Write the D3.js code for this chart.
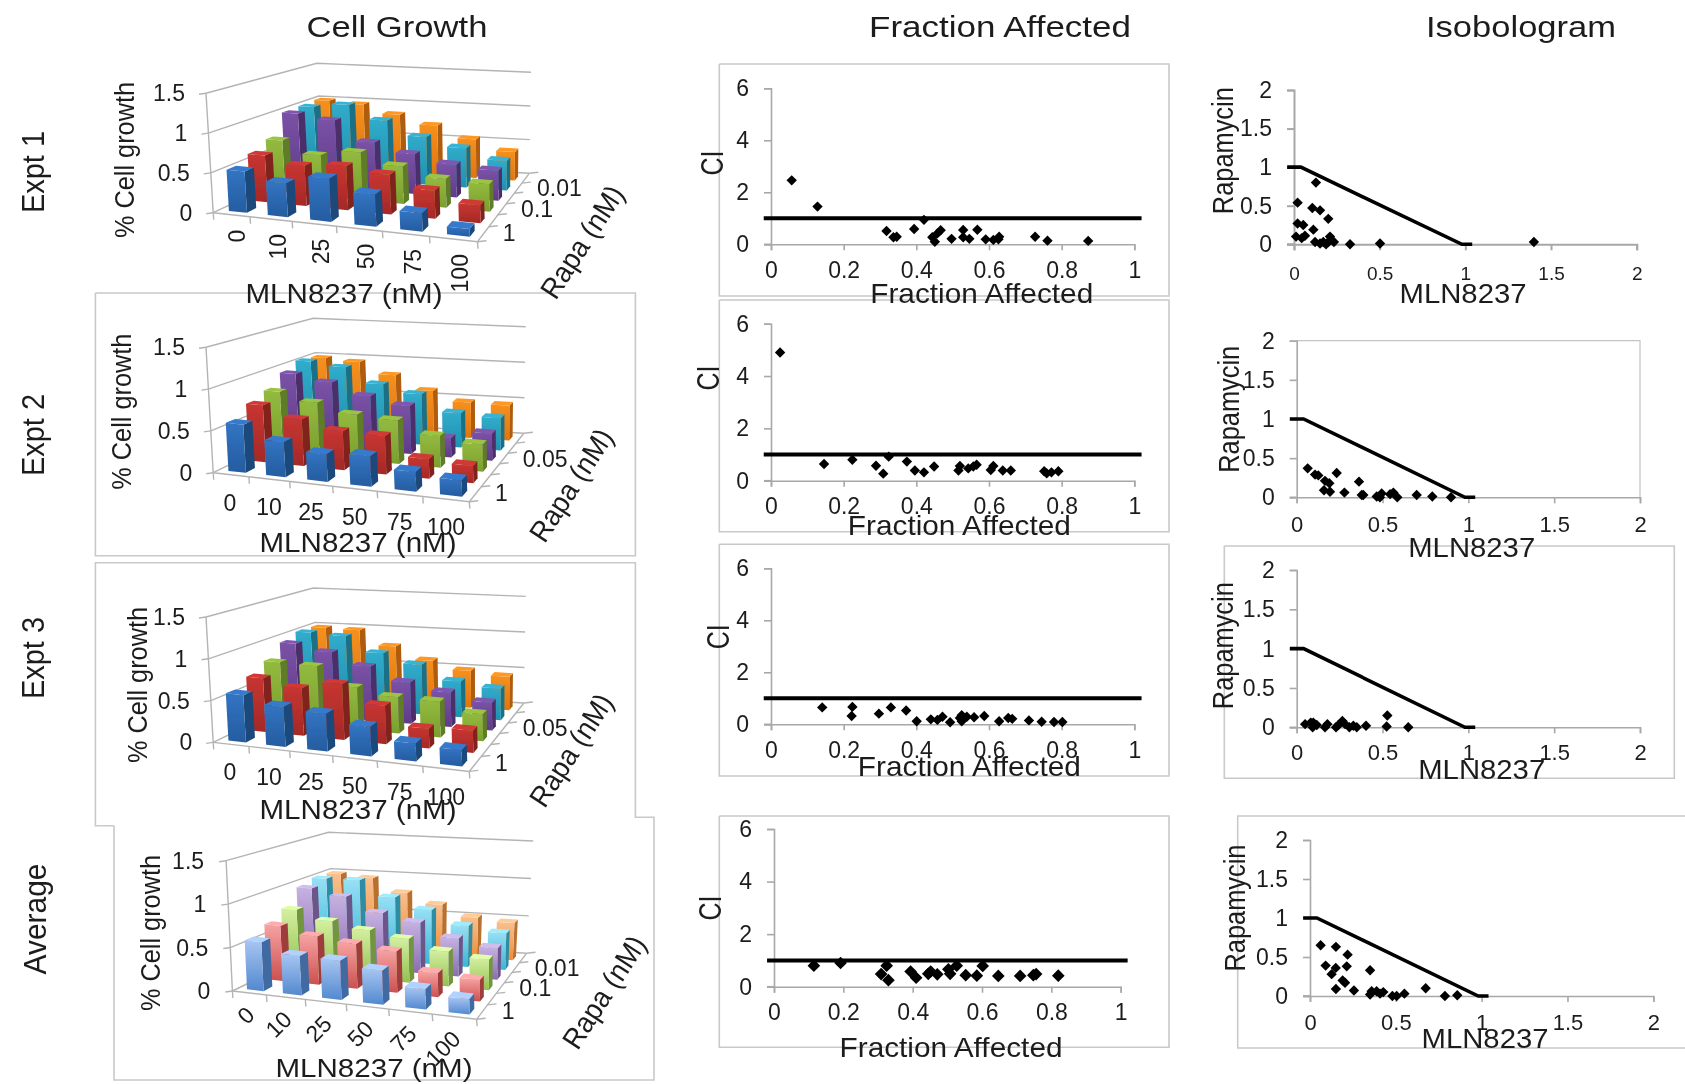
<!DOCTYPE html>
<html>
<head>
<meta charset="utf-8">
<title>Cell growth, fraction affected, isobologram</title>
<script src="https://cdn.jsdelivr.net/npm/d3@7"></script>
<style>
  body { margin: 0; background: #fff; }
  svg { display: block; font-family: "Liberation Sans", Arial, sans-serif; }
  text { fill: #1c1c1c; }
</style>
</head>
<body>
<svg width="1685" height="1084"></svg>
<script>
/* global d3 */
var mlnDoses = ["0", "10", "25", "50", "75", "100"];
var rapaLabelsA = ["1", "", "0.1", "", "0.01", ""];
var rapaLabelsB = ["1", "", "", "0.05", "", ""];
var growthTicks = [0, 0.5, 1, 1.5];

// rows go front to back (blue, red, green, purple, cyan, orange), columns follow mlnDoses
var growth1 = [
  [0.52, 0.42, 0.53, 0.39, 0.22, 0.09],
  [0.61, 0.52, 0.56, 0.50, 0.35, 0.22],
  [0.71, 0.55, 0.63, 0.49, 0.37, 0.35],
  [0.99, 0.93, 0.66, 0.54, 0.44, 0.40],
  [1.00, 1.06, 0.87, 0.67, 0.55, 0.41],
  [1.01, 0.98, 0.86, 0.73, 0.56, 0.41]
];
var growth2 = [
  [0.58, 0.42, 0.33, 0.36, 0.23, 0.19],
  [0.71, 0.58, 0.48, 0.47, 0.24, 0.21],
  [0.79, 0.69, 0.58, 0.55, 0.40, 0.34],
  [0.94, 0.86, 0.72, 0.63, 0.25, 0.35],
  [1.03, 0.98, 0.78, 0.68, 0.46, 0.43],
  [1.00, 0.97, 0.81, 0.62, 0.49, 0.48]
];
var growth3 = [
  [0.57, 0.48, 0.45, 0.35, 0.21, 0.19],
  [0.67, 0.59, 0.69, 0.47, 0.24, 0.27],
  [0.78, 0.77, 0.54, 0.46, 0.45, 0.34],
  [0.94, 0.86, 0.71, 0.54, 0.45, 0.36],
  [1.01, 0.99, 0.79, 0.67, 0.48, 0.42],
  [1.00, 0.99, 0.79, 0.62, 0.51, 0.46]
];
var growthAvg = [
  [0.57, 0.46, 0.46, 0.40, 0.24, 0.18],
  [0.66, 0.58, 0.54, 0.50, 0.29, 0.26],
  [0.77, 0.67, 0.60, 0.54, 0.43, 0.38],
  [0.96, 0.89, 0.72, 0.64, 0.48, 0.40],
  [1.01, 1.02, 0.83, 0.70, 0.53, 0.47],
  [1.00, 0.97, 0.80, 0.67, 0.53, 0.49]
];

var faTicksX = [0, 0.2, 0.4, 0.6, 0.8, 1];
var faTicksY = [0, 2, 4, 6];
var faRefX = [-0.02, 1.02];
var faRefY = [1, 1];
var fa1 = [[0.057,2.46],[0.128,1.45],[0.318,0.51],[0.337,0.27],[0.346,0.29],[0.394,0.59],[0.421,0.94],[0.444,0.27],[0.451,0.10],[0.458,0.42],[0.467,0.54],[0.497,0.21],[0.529,0.55],[0.529,0.27],[0.546,0.21],[0.568,0.56],[0.591,0.19],[0.612,0.17],[0.626,0.19],[0.628,0.29],[0.727,0.29],[0.761,0.14],[0.873,0.13]];
var fa2 = [[0.025,4.90],[0.146,0.64],[0.224,0.80],[0.289,0.57],[0.309,0.27],[0.324,0.92],[0.374,0.73],[0.396,0.39],[0.421,0.32],[0.449,0.54],[0.516,0.39],[0.520,0.56],[0.543,0.47],[0.557,0.54],[0.566,0.61],[0.605,0.41],[0.612,0.56],[0.638,0.39],[0.660,0.39],[0.752,0.36],[0.759,0.28],[0.772,0.32],[0.791,0.36]];
var fa3 = [[0.141,0.65],[0.224,0.67],[0.222,0.32],[0.297,0.41],[0.330,0.65],[0.372,0.53],[0.401,0.12],[0.440,0.19],[0.458,0.17],[0.472,0.29],[0.493,0.08],[0.520,0.24],[0.525,0.35],[0.525,0.12],[0.539,0.29],[0.559,0.27],[0.587,0.32],[0.628,0.12],[0.653,0.24],[0.664,0.21],[0.710,0.15],[0.745,0.10],[0.779,0.09],[0.802,0.09]];
var faAvg = [[0.115,0.80],[0.192,0.90],[0.309,0.48],[0.325,0.80],[0.330,0.25],[0.394,0.58],[0.410,0.34],[0.445,0.49],[0.452,0.58],[0.471,0.47],[0.503,0.66],[0.508,0.49],[0.527,0.80],[0.553,0.44],[0.585,0.42],[0.602,0.79],[0.647,0.41],[0.710,0.41],[0.748,0.44],[0.756,0.48],[0.820,0.42]];

var isoTicks = [0, 0.5, 1, 1.5, 2];
var isoRefX = [-0.04, 0.04, 0.98, 1.04];
var isoRefY = [1, 1, 0, 0];
var iso1 = [[0.128,0.80],[0.021,0.54],[0.107,0.47],[0.152,0.44],[0.200,0.33],[0.021,0.27],[0.054,0.25],[0.113,0.19],[0.012,0.10],[0.045,0.08],[0.064,0.11],[0.123,0.03],[0.152,0.01],[0.171,0.03],[0.187,0],[0.210,0.10],[0.200,0.03],[0.233,0.03],[0.327,0],[0.502,0.01],[1.400,0.03]];
var iso2 = [[0.064,0.37],[0.107,0.29],[0.126,0.28],[0.165,0.21],[0.190,0.18],[0.159,0.09],[0.194,0.07],[0.233,0.31],[0.278,0.06],[0.363,0.20],[0.379,0.03],[0.388,0.03],[0.466,0.01],[0.485,0],[0.495,0.05],[0.544,0.04],[0.563,0.06],[0.586,0],[0.699,0.03],[0.790,0.01],[0.899,0]];
var iso3 = [[0.049,0.04],[0.082,0.06],[0.093,0],[0.097,0.06],[0.117,0.03],[0.165,0],[0.179,0.04],[0.229,0],[0.243,0.03],[0.266,0.08],[0.282,0.04],[0.307,0],[0.330,0.02],[0.350,0],[0.404,0.02],[0.524,0.01],[0.528,0.15],[0.650,0]];
var isoAvg = [[0.062,0.65],[0.151,0.63],[0.219,0.53],[0.091,0.39],[0.150,0.36],[0.214,0.38],[0.126,0.28],[0.190,0.20],[0.204,0.17],[0.151,0.09],[0.256,0.07],[0.350,0.33],[0.350,0.02],[0.359,0.06],[0.388,0.06],[0.408,0.03],[0.427,0.05],[0.480,0],[0.505,0],[0.550,0.03],[0.674,0.10],[0.786,0],[0.858,0.01]];

// front face top/bottom colours per row
var darkBars = [["#3274c2","#255c9f"],["#c73531","#a52927"],["#93ba3f","#7a9f2f"],["#7a52a6","#603c88"],["#31abcb","#2190ac"],["#f5901f","#e0760e"]];
var lightBars = [["#a8c6f2","#5288cf"],["#f7a3a3","#cc5050"],["#d4f0a0","#93bf52"],["#c6b2e2","#8b6cb0"],["#97e0f5","#3cb4d4"],["#f9c08f","#ec8e3a"]];

var svg = d3.select("svg");
var defs = svg.append("defs");
defs.append("filter").attr("id", "soft")
    .attr("filterUnits", "userSpaceOnUse")
    .attr("x", 0).attr("y", 0)
    .attr("width", 1685).attr("height", 1084)
    .append("feGaussianBlur").attr("stdDeviation", 0.7);
var root = svg.append("g").attr("filter", "url(#soft)");

var gridColor = "#b4b4b4";
var frameColor = "#c9c9c9";
var axisColor = "#a8a8a8";
var line = d3.line();

function label(txt, x, y, size, opts) {
  opts = opts || {};
  var t = root.append("text")
      .attr("transform", "translate(" + x + "," + y + ") rotate(" + (opts.rotate || 0) + ")")
      .attr("text-anchor", opts.anchor || "middle")
      .attr("dy", "0.35em")
      .style("font-size", size + "px")
      .text(txt);
  if (opts.width) t.attr("textLength", opts.width).attr("lengthAdjust", "spacingAndGlyphs");
  return t;
}

function polyline(g, pts, color, w) {
  g.append("path").attr("d", line(pts)).attr("fill", "none")
      .attr("stroke", color).attr("stroke-width", w);
}

// column titles and row labels
label("Cell Growth", 397, 26, 30, {width: 181});
label("Fraction Affected", 1000, 26, 30, {width: 262});
label("Isobologram", 1521, 26, 30, {width: 190});
label("Expt 1", 33, 172, 31, {rotate: -90, width: 82});
label("Expt 2", 33, 435, 31, {rotate: -90, width: 82});
label("Expt 3", 33, 658, 31, {rotate: -90, width: 82});
label("Average", 35, 919, 31, {rotate: -90, width: 111});

// panel frames, they overlap like pasted pictures in the original
var frames = root.append("g");
polyline(frames, [[95.4,293],[635.4,293],[635.4,555.7],[95.4,555.7],[95.4,293]], frameColor, 1.6);
polyline(frames, [[114,825.7],[95.4,825.7],[95.4,562.7],[635.4,562.7],[635.4,817.3],[654,817.3],[654,1080],[114,1080],[114,825.7]], frameColor, 1.6);
polyline(frames, [[719.3,64],[1169,64],[1169,296],[719.3,296],[719.3,64]], frameColor, 1.6);
polyline(frames, [[719.3,300],[1169,300],[1169,531.7],[719.3,531.7],[719.3,300]], frameColor, 1.6);
polyline(frames, [[719.3,544.3],[1169,544.3],[1169,776],[719.3,776],[719.3,544.3]], frameColor, 1.6);
polyline(frames, [[719.3,816],[1169,816],[1169,1047.3],[719.3,1047.3],[719.3,816]], frameColor, 1.6);
polyline(frames, [[1224.3,546],[1674.3,546],[1674.3,778.3],[1224.3,778.3],[1224.3,546]], frameColor, 1.6);
polyline(frames, [[1685,816],[1237.7,816],[1237.7,1048],[1685,1048]], frameColor, 1.6);

// 3D bar panels. floor/top corners are in order front-left, front-right, back-right, back-left
var uScale = d3.scalePow().exponent(1.1).domain([0, 6]).range([0, 1]);
var vScale = d3.scalePow().exponent(0.85).domain([0, 6]).range([0, 1]);
var hScale = d3.scaleLinear().domain([0, 1.5]).range([0, 1]);

function lerp(a, b, t) { return [a[0] + (b[0] - a[0]) * t, a[1] + (b[1] - a[1]) * t]; }
function bilerp(q, u, v) { return lerp(lerp(q[0], q[1], u), lerp(q[3], q[2], u), v); }

function gradients(prefix, pal) {
  pal.forEach(function(c, i) {
    var gr = defs.append("linearGradient").attr("id", prefix + i)
        .attr("x1", 0).attr("y1", 0).attr("x2", 0).attr("y2", 1);
    gr.append("stop").attr("offset", "0%").attr("stop-color", c[0]);
    gr.append("stop").attr("offset", "100%").attr("stop-color", c[1]);
  });
}
gradients("dark", darkBars);
gradients("light", lightBars);

function barPanel(p) {
  var g = root.append("g");
  function pt(c, r, val) {
    return lerp(bilerp(p.floor, uScale(c), vScale(r)), bilerp(p.top, uScale(c), vScale(r)), hScale(val));
  }
  growthTicks.forEach(function(t) {
    polyline(g, [pt(0, 0, t), pt(0, 6, t), pt(6, 6, t)], gridColor, 1.4);
    var q = pt(0, 0, t);
    polyline(g, [[q[0] - 7, q[1] + 1], q], gridColor, 1.4);
    label(d3.format("~g")(t), q[0] - p.yLabelGap, q[1], 23, {anchor: "end"});
  });
  polyline(g, [pt(0, 0, 0), pt(0, 0, 1.5)], gridColor, 1.4);
  polyline(g, [pt(0, 0, 0), pt(6, 0, 0), pt(6, 6, 0)], gridColor, 1.4);

  d3.range(7).forEach(function(c) {
    var q = pt(c, 0, 0);
    polyline(g, [q, [q[0] + 0.5, q[1] + 7]], gridColor, 1.4);
    var q2 = pt(6, c, 0);
    polyline(g, [q2, [q2[0] + 9, q2[1] - 1]], gridColor, 1.4);
  });

  mlnDoses.forEach(function(d, c) {
    var q = pt(c + 0.5, 0, 0);
    label(d, q[0] + p.xLabel[0], q[1] + p.xLabel[1], 23, {rotate: p.xLabel[2], anchor: p.xLabel[2] ? "end" : "middle"});
  });
  p.rapa.forEach(function(d, r) {
    if (!d) return;
    var q = pt(6, r + 0.5, 0);
    label(d, q[0] + 19, q[1], 23, {anchor: "start"});
  });

  // back rows first, left to right inside a row
  d3.range(5, -1, -1).forEach(function(r) {
    mlnDoses.forEach(function(d, c) {
      var val = p.data[r][c];
      var c1 = c + 0.3, c2 = c + 0.78, r1 = r + 0.2, r2 = r + 0.62;
      var side = p.pal[r][1];
      var front = [pt(c1, r1, val), pt(c2, r1, val), pt(c2, r1, 0), pt(c1, r1, 0)];
      var right = [pt(c2, r1, val), pt(c2, r2, val), pt(c2, r2, 0), pt(c2, r1, 0)];
      var top = [pt(c1, r1, val), pt(c2, r1, val), pt(c2, r2, val), pt(c1, r2, val)];
      g.append("path").attr("d", line(right) + "Z").attr("fill", d3.color(side).darker(0.7));
      g.append("path").attr("d", line(front) + "Z").attr("fill", "url(#" + p.gradient + r + ")");
      g.append("path").attr("d", line(top) + "Z").attr("fill", d3.color(p.pal[r][0]).brighter(0.15));
    });
  });

  label("% Cell growth", p.yTitle[0], p.yTitle[1], 27, {rotate: -90, width: 156});
  label("MLN8237 (nM)", p.xTitle[0], p.xTitle[1], p.xTitleSize || 28, {width: 197});
  label("Rapa (nM)", p.zTitle[0], p.zTitle[1], 29, {rotate: -57, width: 128});
}

barPanel({
  data: growth1, rapa: rapaLabelsA, pal: darkBars, gradient: "dark",
  floor: [[213.2,212.7],[477.5,241.7],[529.3,173.3],[322.6,161.3]],
  top: [[206,93.3],[472.9,111.7],[531,72.3],[316.8,63.3]],
  yLabelGap: 21, xLabel: [7, 15, -90],
  yTitle: [124.6,160], xTitle: [344,293], zTitle: [582,241.7]
});
barPanel({
  data: growth2, rapa: rapaLabelsB, pal: darkBars, gradient: "dark",
  floor: [[213.2,472.7],[469.3,501.7],[523.9,433.3],[319,421.3]],
  top: [[206,347.3],[465,371.7],[525.7,326.7],[313.2,318.3]],
  yLabelGap: 21, xLabel: [0, 28, 0],
  yTitle: [122,411.7], xTitle: [358,541.7], zTitle: [571,485]
});
barPanel({
  data: growth3, rapa: rapaLabelsB, pal: darkBars, gradient: "dark",
  floor: [[213.2,742.4],[469.3,771.4],[523.9,703],[319,691]],
  top: [[206,617],[465,641.4],[525.7,596.4],[313.2,588]],
  yLabelGap: 21, xLabel: [0, 28, 0],
  yTitle: [138,685], xTitle: [358,809], zTitle: [571,750]
});
barPanel({
  data: growthAvg, rapa: rapaLabelsA, pal: lightBars, gradient: "light",
  floor: [[232.4,991],[476.6,1019.3],[526.5,953.3],[334.5,941.3]],
  top: [[226.1,860.7],[472.9,891.7],[533.2,841],[328.6,832.3]],
  yLabelGap: 22, xLabel: [2, 18, -45],
  yTitle: [151,933], xTitle: [374,1068], xTitleSize: 26, zTitle: [604,992]
});

// scatter panels
var diamond = d3.symbol().type(d3.symbolSquare);

function scatter(p) {
  var g = root.append("g");
  var x = d3.scaleLinear().domain(p.xDomain).range(p.xRange);
  var y = d3.scaleLinear().domain(p.yDomain).range(p.yRange);

  if (p.box) {
    polyline(g, [[x(p.xDomain[0]), y(p.yDomain[1])], [x(p.xDomain[1]), y(p.yDomain[1])], [x(p.xDomain[1]), y(p.yDomain[0])]], "#c4c4c4", 1.2);
  }

  var xAxis = g.append("g")
      .attr("transform", "translate(0," + y(0) + ")")
      .call(d3.axisBottom(x).tickValues(p.xTicks).tickFormat(function(d) { return d; })
          .tickSizeOuter(0).tickSize(6).tickPadding(p.xPad));
  var yAxis = g.append("g")
      .attr("transform", "translate(" + x(0) + ",0)")
      .call(d3.axisLeft(y).tickValues(p.yTicks).tickFormat(function(d) { return d; })
          .tickSizeOuter(0).tickSize(7).tickPadding(p.yPad));
  xAxis.selectAll("text").style("font-size", (p.xFont || 23) + "px").style("font-family", "inherit");
  yAxis.selectAll("text").style("font-size", "23px").style("font-family", "inherit");
  [xAxis, yAxis].forEach(function(a) {
    a.selectAll("path, line").attr("stroke", axisColor).attr("stroke-width", p.axisW);
  });
  // y-axis ticks stick out to the left of x = 0 along the x axis too
  polyline(g, [[x(0) - 7, y(0)], [x(0), y(0)]], axisColor, p.axisW);

  g.selectAll("path.pt").data(p.points).enter().append("path")
      .attr("class", "pt")
      .attr("d", diamond.size(p.marker))
      .attr("fill", "#000")
      .attr("transform", function(d) { return "translate(" + x(d[0]) + "," + y(d[1]) + ") rotate(45)"; });

  polyline(g, d3.zip(p.refX, p.refY).map(function(d) { return [x(d[0]), y(d[1])]; }), "#000", p.refW);

  label(p.yTitle, p.yPos[0], p.yPos[1], p.yTitleSize, {rotate: -90, width: p.yTitleW});
  label(p.xTitle, p.xPos[0], p.xPos[1], 28, {width: p.xTitleW});
}

function faPanel(points, xRange, yRange, yPos, xPos, marker) {
  scatter({
    points: points, refX: faRefX, refY: faRefY, refW: 4,
    xDomain: [0, 1], yDomain: [0, 6], xRange: xRange, yRange: yRange,
    xTicks: faTicksX, yTicks: faTicksY, xPad: 11, yPad: 15, axisW: 1.6, marker: marker,
    yTitle: "CI", yPos: yPos, yTitleSize: 31, yTitleW: 25,
    xTitle: "Fraction Affected", xPos: xPos, xTitleW: 223
  });
}
faPanel(fa1, [771,1134.3], [244.3,88.3], [712,163], [981.7,293.3], 54);
faPanel(fa2, [771,1134.3], [480.7,323.7], [708,378], [959.3,525], 54);
faPanel(fa3, [771,1134.3], [724.3,568.3], [718,636.7], [969.3,766], 54);
faPanel(faAvg, [774,1120.7], [986.7,829], [710.5,908], [951,1047.3], 80);

function isoPanel(points, xRange, yRange, yPos, xPos, xPad, xFont, axisW, box) {
  scatter({
    points: points, refX: isoRefX, refY: isoRefY, refW: 3.6,
    xDomain: [0, 2], yDomain: [0, 2], xRange: xRange, yRange: yRange,
    xTicks: isoTicks, yTicks: isoTicks, xPad: xPad, yPad: 15, axisW: axisW, marker: 54, box: box, xFont: xFont,
    yTitle: "Rapamycin", yPos: yPos, yTitleSize: 29, yTitleW: 127,
    xTitle: "MLN8237", xPos: xPos, xTitleW: 127
  });
}
isoPanel(iso1, [1294,1636.7], [244.3,90], [1223.3,150.7], [1463,293], 16, 19, 2, false);
isoPanel(iso2, [1296.7,1640], [497.3,340.7], [1229.3,409.3], [1471.7,546.7], 13, 22, 1.6, true);
isoPanel(iso3, [1296.7,1640], [727.3,570], [1223,645.7], [1481.7,769.3], 11, 22, 1.6, false);
isoPanel(isoAvg, [1310,1653.3], [996,840], [1235,908], [1485,1038.3], 12, 22, 1.6, false);
</script>
</body>
</html>
